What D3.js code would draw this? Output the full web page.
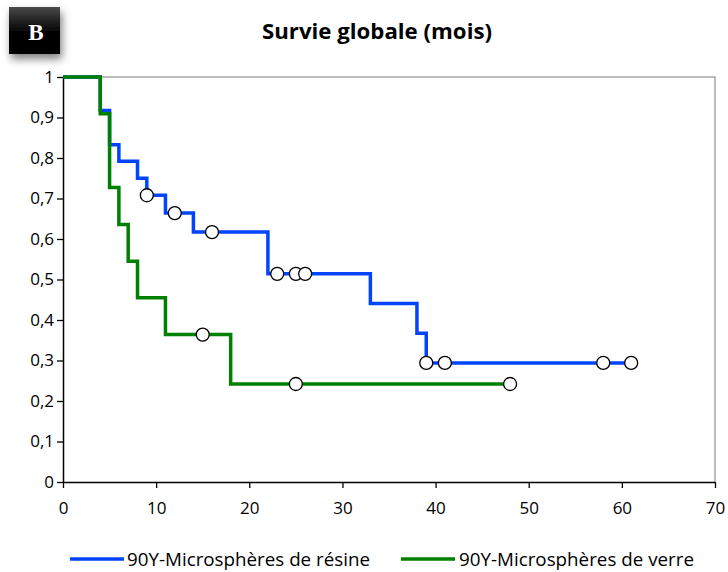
<!DOCTYPE html>
<html>
<head>
<meta charset="utf-8">
<script src="https://cdn.jsdelivr.net/npm/d3@7"></script>
<style>
  html, body { margin: 0; padding: 0; background: #fff; }
  svg { display: block; }
</style>
</head>
<body>
<script>
// ---- Data ----
const title = "Survie globale (mois)";
const panelLabel = "B";
const seriesNames = ["90Y-Microsphères de résine", "90Y-Microsphères de verre"];
const seriesColors = ["#0044ff", "#008000"];

// Résine: step times and survival after each step
const resineTimes = [0, 4, 5, 6, 8, 9, 11, 14, 22, 33, 38, 39];
const resineSurv  = [1, 0.917, 0.833, 0.792, 0.750, 0.708, 0.664, 0.617, 0.514, 0.441, 0.367, 0.294];
const resineEnd = 61;
const resineCensTimes = [9, 12, 16, 23, 25, 26, 39, 41, 58, 61];
const resineCensSurv  = [0.708, 0.664, 0.617, 0.514, 0.514, 0.514, 0.294, 0.294, 0.294, 0.294];

// Verre
const verreTimes = [0, 4, 5, 6, 7, 8, 11, 18];
const verreSurv  = [1, 0.909, 0.727, 0.636, 0.545, 0.455, 0.364, 0.242];
const verreEnd = 48;
const verreCensTimes = [15, 25, 48];
const verreCensSurv  = [0.364, 0.242, 0.242];

const xTicks = [0, 10, 20, 30, 40, 50, 60, 70];
const yTicks = [0, 0.1, 0.2, 0.3, 0.4, 0.5, 0.6, 0.7, 0.8, 0.9, 1];
const yTickLabels = ["0", "0,1", "0,2", "0,3", "0,4", "0,5", "0,6", "0,7", "0,8", "0,9", "1"];

// ---- Layout ----
const W = 728, H = 572;
const pL = 63, pR = 715, pT = 77, pB = 482;
const font = "'Open Sans', 'Noto Sans', sans-serif";

const svg = d3.select("body").append("svg").attr("width", W).attr("height", H);
const defs = svg.append("defs");

const grad = defs.append("linearGradient").attr("id", "boxGrad")
  .attr("x1", 0).attr("y1", 0).attr("x2", 0).attr("y2", 1);
grad.append("stop").attr("offset", "0%").attr("stop-color", "#4a4a4a");
grad.append("stop").attr("offset", "55%").attr("stop-color", "#000");
grad.append("stop").attr("offset", "100%").attr("stop-color", "#000");

const shadow = defs.append("filter").attr("id", "shadow")
  .attr("x", "-30%").attr("y", "-30%").attr("width", "170%").attr("height", "170%");
shadow.append("feDropShadow").attr("dx", 2).attr("dy", 5).attr("stdDeviation", 4)
  .attr("flood-color", "#000").attr("flood-opacity", 0.5);

const x = d3.scaleLinear().domain([0, 70]).range([pL, pR]);
const y = d3.scaleLinear().domain([0, 1]).range([pB, pT]);

// Panel label box
svg.append("rect").attr("x", 9).attr("y", 7).attr("width", 51).attr("height", 47)
  .attr("fill", "url(#boxGrad)").attr("filter", "url(#shadow)");
svg.append("text").attr("x", 36).attr("y", 40).attr("text-anchor", "middle")
  .attr("font-family", "'Liberation Serif', 'DejaVu Serif', serif")
  .attr("font-weight", "bold").attr("font-size", 23).attr("fill", "#fff")
  .text(panelLabel);

// Title
svg.append("text").attr("x", 377).attr("y", 38.5).attr("text-anchor", "middle")
  .attr("font-family", font).attr("font-weight", "bold").attr("font-size", 21.5)
  .attr("fill", "#000").attr("textLength", 230).attr("lengthAdjust", "spacingAndGlyphs")
  .text(title);

// Plot border (top & right, grey)
svg.append("path")
  .attr("d", `M${pL},${y(1)}H${x(70)}V${y(0)}`)
  .attr("fill", "none").attr("stroke", "#a6a6a6").attr("stroke-width", 1.5);

// Axes
const yAxis = d3.axisLeft(y).tickValues(yTicks)
  .tickFormat((d, i) => yTickLabels[i]).tickSize(6).tickPadding(3);
const gy = svg.append("g").attr("transform", `translate(${pL},0)`).call(yAxis);
const xAxis = d3.axisBottom(x).tickValues(xTicks).tickFormat(d3.format("d"))
  .tickSize(6).tickPadding(14);
const gx = svg.append("g").attr("transform", `translate(0,${pB})`).call(xAxis);

[gx, gy].forEach(g => {
  g.attr("font-family", font).attr("font-size", 17);
  g.select(".domain").attr("stroke", "#000").attr("stroke-width", 1.5);
  g.selectAll(".tick line").attr("stroke", "#000").attr("stroke-width", 1.3);
  g.selectAll(".tick text").attr("font-family", font).attr("font-size", 17).attr("fill", "#000");
});
gx.select(".domain").attr("d", `M${pL},0.5H${pR}`);
gy.select(".domain").attr("d", `M0.5,${pT}V${pB}`);

// Step lines
function stepPoints(times, surv, end) {
  const pts = times.map((t, i) => [t, surv[i]]);
  pts.push([end, surv[surv.length - 1]]);
  return pts;
}
const line = d3.line().x(d => x(d[0])).y(d => y(d[1])).curve(d3.curveStepAfter);

const series = [
  { pts: stepPoints(resineTimes, resineSurv, resineEnd), ct: resineCensTimes, cs: resineCensSurv, color: seriesColors[0] },
  { pts: stepPoints(verreTimes, verreSurv, verreEnd), ct: verreCensTimes, cs: verreCensSurv, color: seriesColors[1] }
];

series.forEach(s => {
  svg.append("path").datum(s.pts).attr("d", line)
    .attr("fill", "none").attr("stroke", s.color).attr("stroke-width", 3.5)
    .attr("stroke-linejoin", "miter");
});
series.forEach(s => {
  svg.append("g").selectAll("circle").data(s.ct).join("circle")
    .attr("cx", d => x(d)).attr("cy", (d, i) => y(s.cs[i])).attr("r", 6.5)
    .attr("fill", "#fff").attr("stroke", "#000").attr("stroke-width", 1.3);
});

// Legend
const legendItems = [
  { x1: 70, x2: 124, tx: 127, tl: 243 },
  { x1: 401, x2: 455, tx: 459, tl: 235 }
];
legendItems.forEach((li, i) => {
  svg.append("line").attr("x1", li.x1).attr("x2", li.x2).attr("y1", 559).attr("y2", 559)
    .attr("stroke", seriesColors[i]).attr("stroke-width", 3.5);
  svg.append("text").attr("x", li.tx).attr("y", 565.5)
    .attr("font-family", font).attr("font-size", 17.5).attr("fill", "#000")
    .attr("textLength", li.tl).attr("lengthAdjust", "spacingAndGlyphs")
    .text(seriesNames[i]);
});
</script>
</body>
</html>
